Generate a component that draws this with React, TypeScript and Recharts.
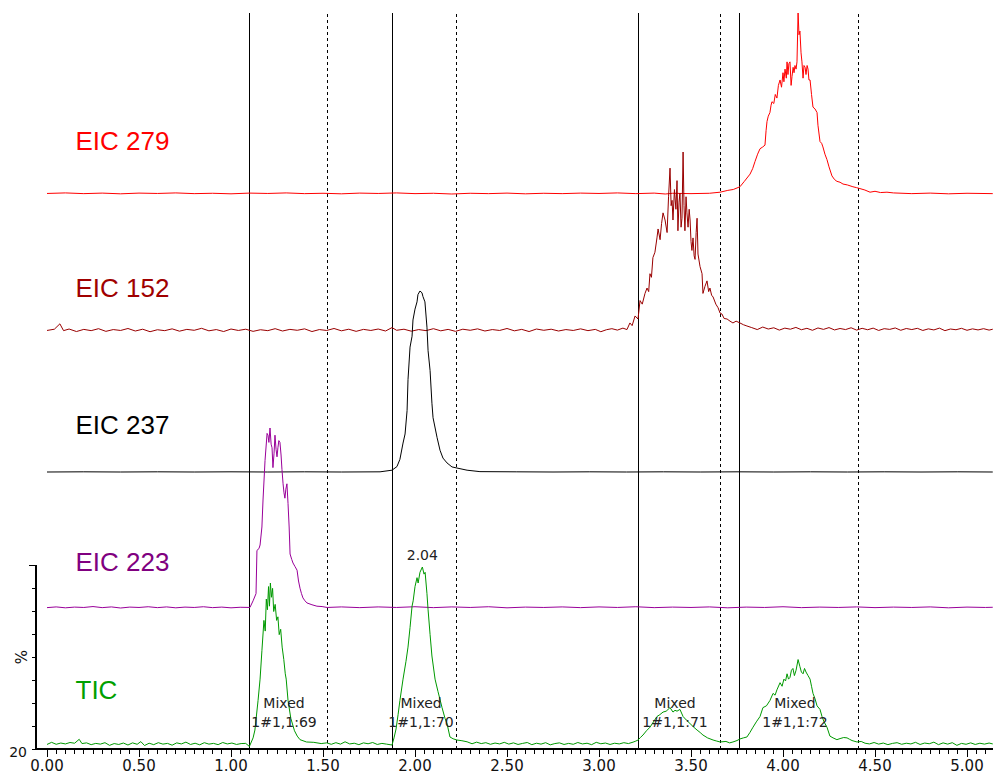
import React from 'react';
import { ComposedChart, Line, XAxis, YAxis, ReferenceLine, ReferenceDot } from 'recharts';

type Pt = [number, number];

// [retention time (min), relative intensity (%)]
const tic: Pt[] = [
  [0.0, 0.3], [0.025, 1.5], [0.05, 0.4], [0.075, 1.1], [0.1, 0.6], [0.125, 1.4], [0.15, 1.0], [0.175, 3.2],
  [0.19, 0.8], [0.215, 1.2], [0.24, 0.2], [0.265, 0.9], [0.29, 0.5], [0.315, 1.3], [0.34, -0.2], [0.365, 0.8],
  [0.39, 0.3], [0.415, 1.1], [0.44, 0.0], [0.465, 1.2], [0.49, 0.4], [0.51, 1.9], [0.53, -0.3], [0.555, 1.0],
  [0.58, 0.2], [0.605, 1.3], [0.63, 0.5], [0.655, 0.9], [0.68, -0.1], [0.705, 1.2], [0.73, 0.6], [0.755, 1.6],
  [0.78, 0.3], [0.805, 1.0], [0.83, 0.1], [0.855, 1.3], [0.88, 0.5], [0.905, 0.9], [0.93, 0.2], [0.955, 1.4],
  [0.98, 0.6], [1.005, 1.1], [1.03, 0.3], [1.055, 0.8], [1.08, 0.9], [1.1, -0.8],
  [1.12, 4], [1.13, 8.4], [1.147, 25], [1.158, 37], [1.168, 53], [1.179, 70], [1.186, 64], [1.192, 82],
  [1.198, 76], [1.204, 89], [1.209, 78], [1.214, 91], [1.22, 83], [1.226, 88], [1.232, 75], [1.24, 79],
  [1.248, 70], [1.255, 72], [1.262, 62], [1.27, 65], [1.278, 55], [1.287, 48], [1.295, 40], [1.3, 37],
  [1.31, 25], [1.325, 15], [1.345, 8], [1.36, 5], [1.375, 3], [1.41, 1.7], [1.45, 1.5], [1.49, 0.8], [1.52, 1.2],
  [1.545, 0.4], [1.57, 1.3], [1.595, 0.5], [1.62, 1.8], [1.645, 0.6], [1.67, 1.0], [1.695, 0.2], [1.72, 1.2],
  [1.745, 0.7], [1.77, 1.4], [1.795, 0.3], [1.82, 0.9], [1.845, 0.5], [1.875, 0],
  [1.886, 4], [1.897, 9], [1.908, 17], [1.918, 25], [1.935, 37], [1.951, 47], [1.962, 55], [1.973, 66],
  [1.984, 78], [1.99, 81], [2.0, 89], [2.011, 94], [2.017, 91], [2.027, 97], [2.04, 100], [2.049, 96],
  [2.055, 97], [2.065, 85], [2.071, 76], [2.082, 62], [2.092, 50], [2.109, 37], [2.125, 30], [2.147, 21],
  [2.163, 15], [2.174, 12], [2.19, 4.5], [2.207, 3.5], [2.228, 2.8], [2.255, 2.4], [2.283, 1.8],
  [2.31, 0.7], [2.335, 1.6], [2.36, 0.8], [2.385, 1.3], [2.41, 0.4], [2.435, 1.1], [2.46, 0.6], [2.485, 1.5],
  [2.51, 0.5], [2.535, 1.2], [2.56, 0.3], [2.585, 0.9], [2.61, 1.4], [2.635, 0.2], [2.66, 1.0], [2.685, 0.5],
  [2.71, 1.3], [2.735, 0.1], [2.76, 0.8], [2.785, 1.2], [2.81, 0.3], [2.835, 0.9], [2.86, 0.4], [2.885, 1.4],
  [2.91, 0.6], [2.935, 1.0], [2.96, 0.2], [2.985, 1.5], [3.01, 0.7], [3.035, 1.1], [3.06, 0.3], [3.085, 1.0],
  [3.11, 0.6], [3.135, 1.3], [3.16, 0.8], [3.185, 1.6], [3.2, 2.2],
  [3.212, 2.8], [3.225, 4.2], [3.239, 5.6], [3.258, 8], [3.277, 10], [3.296, 13], [3.315, 16], [3.33, 17],
  [3.348, 18.5], [3.365, 19], [3.386, 21], [3.402, 18.5], [3.413, 19.5], [3.424, 19], [3.44, 20], [3.457, 16],
  [3.475, 14], [3.495, 12], [3.515, 10], [3.533, 8.4], [3.55, 7], [3.565, 5.6], [3.59, 4], [3.62, 2.8],
  [3.64, 2.2], [3.658, 1.7], [3.69, 2.0], [3.71, 1.2], [3.728, 1.7], [3.75, 2.5], [3.766, 3.4],
  [3.785, 4.0], [3.804, 4.5], [3.82, 7], [3.837, 10], [3.855, 13], [3.875, 16], [3.891, 21], [3.91, 22],
  [3.929, 25], [3.946, 29], [3.957, 28], [3.967, 31], [3.984, 35], [3.995, 33], [4.005, 37], [4.014, 36],
  [4.022, 40], [4.03, 37], [4.038, 38], [4.046, 42], [4.054, 43], [4.062, 39], [4.071, 42], [4.082, 48],
  [4.092, 44], [4.1, 41], [4.109, 40], [4.117, 43], [4.125, 41], [4.136, 39], [4.147, 37], [4.155, 33],
  [4.163, 29], [4.174, 26], [4.185, 22], [4.201, 20], [4.212, 16], [4.223, 13], [4.239, 10], [4.255, 5],
  [4.272, 4], [4.293, 3], [4.31, 3.6], [4.33, 4.2], [4.348, 4], [4.362, 3.2], [4.375, 2.5], [4.402, 1.7],
  [4.425, 2.0], [4.446, 1.0],
  [4.47, 0.6], [4.495, 1.4], [4.52, 0.5], [4.545, 1.1], [4.57, 0.2], [4.595, 0.9], [4.62, 1.3], [4.645, 0.4],
  [4.67, 1.0], [4.695, 0.6], [4.72, 1.5], [4.745, 0.3], [4.77, 1.1], [4.795, 0.7], [4.82, 1.6], [4.845, 0.2],
  [4.87, 1.2], [4.895, 0.5], [4.92, 1.3], [4.945, -0.2], [4.97, 0.9], [4.995, 0.4], [5.02, 1.2], [5.045, 0.3],
  [5.07, 1.0], [5.095, 0.5], [5.12, 1.1], [5.14, 0.6],
];

const eic223: Pt[] = [
  [0.0, 0.2], [0.05, 0.6], [0.1, 0.1], [0.15, 0.5], [0.2, 0.3], [0.25, 0.8], [0.3, 0.2], [0.35, 0.6],
  [0.4, 0.0], [0.45, 0.5], [0.5, 0.3], [0.55, 0.7], [0.6, 0.2], [0.65, 0.6], [0.7, 0.1], [0.75, 0.5],
  [0.8, 0.3], [0.85, 0.7], [0.9, 0.2], [0.95, 0.5], [1.0, 0.1], [1.05, 0.4], [1.103, 0.3],
  [1.12, 4], [1.136, 8], [1.141, 32], [1.152, 33], [1.158, 35], [1.168, 45], [1.174, 60], [1.185, 82],
  [1.196, 97], [1.201, 96], [1.206, 92], [1.212, 100], [1.218, 91], [1.223, 89], [1.228, 78], [1.234, 86],
  [1.239, 96], [1.245, 88], [1.25, 84], [1.255, 89], [1.26, 93], [1.266, 92], [1.272, 85], [1.277, 77],
  [1.283, 69], [1.288, 64], [1.293, 61], [1.298, 66], [1.304, 69], [1.31, 58], [1.316, 45], [1.321, 30],
  [1.33, 27], [1.337, 25], [1.348, 23], [1.359, 21], [1.367, 15], [1.375, 11], [1.383, 8], [1.391, 5.6],
  [1.402, 4], [1.413, 2.8], [1.44, 1.8], [1.467, 1], [1.495, 0.8], [1.522, 0.3],
  [1.6, 0.6], [1.7, 0.2], [1.8, 0.6], [1.9, 0.3], [2.0, 0.7], [2.1, 0.2], [2.2, 0.6], [2.3, 0.3],
  [2.4, 0.7], [2.5, 0.1], [2.6, 0.5], [2.7, 0.3], [2.8, 0.6], [2.9, 0.2], [3.0, 0.6], [3.1, 0.3],
  [3.2, 0.7], [3.3, 0.2], [3.4, 0.5], [3.5, 0.3], [3.6, 0.6], [3.7, 0.1], [3.8, 0.5], [3.9, 0.3],
  [4.0, 0.7], [4.1, 0.2], [4.2, 0.5], [4.3, 0.3], [4.4, 0.6], [4.5, 0.2], [4.6, 0.5], [4.7, 0.3],
  [4.8, 0.6], [4.9, 0.1], [5.0, 0.5], [5.1, 0.3], [5.14, 0.4],
];

const eic237: Pt[] = [
  [0.0, 0.0], [0.2, 0.1], [0.4, 0.0], [0.6, 0.1], [0.8, 0.0], [1.0, 0.1], [1.2, 0.0], [1.4, 0.1],
  [1.6, 0.0], [1.81, 0.1],
  [1.875, 1], [1.902, 3], [1.918, 7], [1.935, 16], [1.946, 21], [1.957, 34], [1.962, 51], [1.973, 69],
  [1.984, 75], [1.989, 84], [2.0, 90], [2.011, 94], [2.016, 98], [2.027, 100], [2.038, 99], [2.043, 97],
  [2.054, 94], [2.065, 80], [2.071, 67], [2.082, 56], [2.092, 38], [2.098, 30], [2.12, 19], [2.136, 12],
  [2.152, 7.7], [2.174, 5], [2.201, 2.8], [2.228, 2.2], [2.283, 1], [2.353, 0.2],
  [2.55, 0.1], [2.75, 0.0], [2.95, 0.1], [3.15, 0.0], [3.35, 0.1], [3.55, 0.0], [3.75, 0.1], [3.95, 0.0],
  [4.15, 0.1], [4.35, 0.0], [4.55, 0.1], [4.75, 0.0], [4.95, 0.1], [5.14, 0.0],
];

const eic152: Pt[] = [
  [0.0, 0.3], [0.04, 1.0], [0.07, 4.0], [0.09, 0.2], [0.12, 1.1], [0.16, -0.3], [0.2, 0.9], [0.24, 0.2],
  [0.28, 1.3], [0.32, -0.2], [0.36, 0.8], [0.4, 0.3], [0.44, 1.4], [0.48, 0.0], [0.52, 1.0], [0.56, -0.4],
  [0.6, 0.7], [0.64, 0.2], [0.68, 1.2], [0.72, -0.1], [0.76, 0.9], [0.8, 0.4], [0.84, 1.5], [0.88, 0.1],
  [0.92, 0.8], [0.96, -0.3], [1.0, 1.1], [1.04, 0.3], [1.08, 1.0], [1.12, -0.2], [1.16, 0.7], [1.2, 0.2],
  [1.24, 1.3], [1.28, 0.0], [1.32, 0.9], [1.36, 0.4], [1.4, 1.2], [1.44, -0.3], [1.48, 0.8], [1.52, 0.3],
  [1.56, 1.4], [1.6, 0.1], [1.64, 1.0], [1.68, -0.2], [1.72, 0.9], [1.76, 0.3], [1.8, 1.1], [1.84, 0.0],
  [1.875, 1.9], [1.9, 0.4], [1.94, 1.0], [1.98, -0.1], [2.02, 0.8], [2.06, 0.2], [2.1, 1.3], [2.14, 0.1],
  [2.18, 0.9], [2.22, -0.2], [2.26, 1.0], [2.3, 0.4], [2.34, 1.2], [2.38, 0.0], [2.42, 0.8], [2.46, 0.3],
  [2.5, 1.4], [2.54, 0.1], [2.58, 0.9], [2.62, -0.3], [2.66, 1.1], [2.7, 0.4], [2.74, 1.0], [2.78, 0.0],
  [2.82, 0.8], [2.86, 0.3], [2.9, 1.2], [2.94, 0.2], [2.98, 0.9], [3.01, -0.4], [3.04, 0.7], [3.07, 1.3],
  [3.1, 0.5], [3.13, 1.6], [3.152, 0.8],
  [3.168, 4.5], [3.18, 3], [3.196, 8.4], [3.212, 6.7], [3.223, 17], [3.235, 15], [3.25, 21], [3.261, 24],
  [3.27, 22], [3.277, 32], [3.285, 30], [3.293, 41], [3.304, 44], [3.315, 52], [3.321, 57], [3.332, 51],
  [3.34, 60], [3.348, 66], [3.359, 62], [3.37, 55], [3.378, 75], [3.386, 91], [3.392, 70], [3.397, 73],
  [3.402, 62], [3.41, 79], [3.418, 68], [3.424, 84], [3.429, 56], [3.435, 72], [3.44, 77], [3.446, 58],
  [3.451, 63], [3.457, 100], [3.462, 70], [3.467, 56], [3.473, 75], [3.478, 66], [3.484, 58], [3.49, 68],
  [3.495, 62], [3.5, 50], [3.505, 45], [3.511, 52], [3.517, 42], [3.522, 40], [3.528, 55], [3.533, 63],
  [3.538, 43], [3.549, 36], [3.56, 32], [3.565, 21], [3.576, 25], [3.587, 28], [3.596, 22], [3.603, 24],
  [3.612, 20], [3.62, 19], [3.635, 15], [3.647, 13], [3.658, 10], [3.668, 9.5], [3.68, 7], [3.696, 6.7],
  [3.712, 5.5], [3.728, 4.5], [3.745, 5.5], [3.766, 4.5], [3.785, 3.5], [3.804, 2.8],
  [3.83, 1.9], [3.86, 0.8], [3.89, 2.2], [3.92, 1.1], [3.95, 1.8], [3.98, 0.5], [4.01, 1.6], [4.04, 1.0],
  [4.07, 2.0], [4.1, 0.7], [4.13, 1.5], [4.16, 0.4], [4.19, 1.7], [4.22, 0.9], [4.25, 1.9], [4.28, 0.6],
  [4.31, 1.4], [4.34, 0.8], [4.37, 1.8], [4.4, 0.5], [4.43, 1.5], [4.46, 0.7], [4.49, 1.6], [4.52, 0.3],
  [4.55, 1.3], [4.58, 0.9], [4.61, 1.7], [4.64, 0.4], [4.67, 1.4], [4.7, 0.8], [4.73, 1.5], [4.76, 0.3],
  [4.79, 1.2], [4.82, 0.6], [4.85, 1.6], [4.88, 0.2], [4.91, 1.1], [4.94, 0.7], [4.97, 1.5], [5.0, 0.4],
  [5.03, 1.2], [5.06, 0.6], [5.09, 1.3], [5.12, 0.5], [5.14, 1.0],
];

const eic279: Pt[] = [
  [0.0, 0.3], [0.1, 0.6], [0.2, 0.2], [0.3, 0.5], [0.4, 0.1], [0.5, 0.5], [0.6, 0.3], [0.7, 0.6],
  [0.8, 0.2], [0.9, 0.4], [1.0, 0.1], [1.1, 0.5], [1.2, 0.3], [1.3, 0.6], [1.4, 0.2], [1.5, 0.4],
  [1.6, 0.1], [1.7, 0.5], [1.8, 0.3], [1.9, 0.6], [2.0, 0.2], [2.1, 0.4], [2.2, 0.0], [2.3, 0.4],
  [2.4, 0.2], [2.5, 0.5], [2.6, 0.1], [2.7, 0.4], [2.8, 0.2], [2.9, 0.5], [3.0, 0.3], [3.1, 0.6],
  [3.2, 0.2], [3.3, 0.5], [3.36, 0.0], [3.4, 0.4], [3.5, 0.2], [3.6, 0.4], [3.658, 1.0],
  [3.7, 2.0], [3.73, 2.5], [3.766, 4], [3.79, 7], [3.821, 11], [3.835, 14], [3.848, 18], [3.862, 22],
  [3.875, 25], [3.89, 26], [3.902, 27], [3.908, 35], [3.913, 40], [3.92, 43], [3.929, 45], [3.935, 49],
  [3.94, 51], [3.95, 50], [3.958, 55], [3.967, 53], [3.975, 60], [3.984, 63], [3.992, 59], [4.0, 67],
  [4.005, 62], [4.011, 69], [4.018, 64], [4.022, 73], [4.027, 66], [4.032, 72], [4.038, 73], [4.044, 60],
  [4.049, 65], [4.055, 70], [4.06, 67], [4.065, 71], [4.071, 69], [4.076, 73], [4.082, 100], [4.087, 88],
  [4.092, 90], [4.098, 78], [4.103, 73], [4.109, 64], [4.114, 71], [4.12, 70], [4.125, 66], [4.131, 71],
  [4.136, 69], [4.141, 63], [4.147, 63], [4.155, 55], [4.163, 48], [4.174, 47], [4.185, 45], [4.19, 38],
  [4.201, 29], [4.21, 28], [4.217, 26], [4.228, 22], [4.239, 19], [4.25, 15], [4.266, 10], [4.28, 8],
  [4.293, 7], [4.31, 6.5], [4.326, 5.5], [4.35, 5], [4.38, 4], [4.4, 3.5], [4.418, 3], [4.445, 2.2],
  [4.473, 1], [4.5, 1.5], [4.53, 0.8], [4.565, 1], [4.6, 0.6],
  [4.7, 0.2], [4.8, 0.5], [4.9, 0.1], [5.0, 0.4], [5.14, 0.2],
];

// integration window markers (start solid, end dashed)
const windowStarts = [1.103, 1.875, 3.212, 3.766];
const windowEnds = [1.522, 2.228, 3.658, 4.413];

// peak annotations on the TIC
const peakTimes = [1.288, 2.033, 3.413, 4.065];
const peakSamples = ['1#1,1:69', '1#1,1:70', '1#1,1:71', '1#1,1:72'];

const majorTicks = [0, 0.5, 1, 1.5, 2, 2.5, 3, 3.5, 4, 4.5, 5];
const minorTicks = Array.from({ length: 103 }, (_, i) => +(i * 0.05).toFixed(2));
const pctTicks = [0, 12.5, 25, 37.5, 50, 62.5, 75, 87.5, 100];

// layout
const PLOT_TOP = 13;
const PLOT_BOTTOM = 749;
const Y_AXIS_W = 36;
const X_MIN = -11 / 184;
const X_MAX = 5.1413;
const NAME_X = 0.155;
const SANS = '"Liberation Sans", Arial, sans-serif';
const DEJAVU = '"DejaVu Sans", sans-serif';

// each trace sits on its own hidden axis: base = pixel row of 0 %, top = pixel row of 100 %
const traces = [
  { id: 'e279', name: 'EIC 279', data: eic279, color: '#ff0000', label: '#ff0000', base: 194, top: 13, nameY: 141 },
  { id: 'e152', name: 'EIC 152', data: eic152, color: '#990000', label: '#a00000', base: 331, top: 152, nameY: 288 },
  { id: 'e237', name: 'EIC 237', data: eic237, color: '#000000', label: '#000000', base: 472, top: 291, nameY: 425 },
  { id: 'e223', name: 'EIC 223', data: eic223, color: '#990099', label: '#800080', base: 608, top: 428, nameY: 562 },
  { id: 'tic', name: 'TIC', data: tic, color: '#009900', label: '#00a000', base: 745, top: 567, nameY: 690 },
];

const domainFor = (base: number, top: number): [number, number] => {
  const k = 100 / (base - top);
  return [-(PLOT_BOTTOM - base) * k, (base - PLOT_TOP) * k];
};

const rows = (pts: Pt[]) => pts.map(([t, v]) => ({ t, v }));

const ticApex = tic.reduce((a, b) => (b[1] > a[1] ? b : a));
const ticTrace = traces[4];
const mixedLevel = ((ticTrace.base - 712.5) / (ticTrace.base - ticTrace.top)) * 100;

const centre = (vb: any) => ({ cx: vb.x + vb.width / 2, cy: vb.y + vb.height / 2 });

const XTick = (props: any) => {
  const { x, y, payload } = props;
  const major = majorTicks.includes(payload.value);
  return (
    <g>
      <line x1={x} x2={x} y1={y} y2={y + (major ? 8 : 5)} stroke="#000" shapeRendering="crispEdges" />
      {major && (
        <text x={x} y={y + 22} textAnchor="middle" fontSize={15} fontFamily={DEJAVU} fill="#111">
          {payload.value.toFixed(2)}
        </text>
      )}
    </g>
  );
};

// the short intensity scale hangs off the left edge of the plot
const YTick = (props: any) => {
  const { y, payload } = props;
  const x = Y_AXIS_W;
  const len = payload.value === 100 ? 7 : 4;
  return (
    <g>
      <line x1={x - len} x2={x} y1={y} y2={y} stroke="#000" shapeRendering="crispEdges" />
      {payload.value === 0 && (
        <text x={x - 9} y={y + 8} textAnchor="end" fontSize={14} fontFamily={DEJAVU} fill="#111">
          20
        </text>
      )}
    </g>
  );
};

export default function App() {
  return (
    <div style={{ width: 994, height: 775, background: '#fff' }}>
      <style>{'body{margin:0}'}</style>
      <ComposedChart width={994} height={775} margin={{ top: PLOT_TOP, right: 1, bottom: 0, left: 0 }}>
        <XAxis
          type="number"
          dataKey="t"
          domain={[X_MIN, X_MAX]}
          allowDataOverflow
          ticks={minorTicks}
          interval={0}
          height={775 - PLOT_BOTTOM}
          axisLine={{ stroke: '#000', strokeWidth: 2 }}
          tickLine={false}
          tickSize={0}
          tickMargin={0}
          tick={XTick}
        />
        <YAxis
          yAxisId="pct"
          orientation="left"
          type="number"
          domain={[0, 400]}
          allowDataOverflow
          ticks={pctTicks}
          width={Y_AXIS_W}
          axisLine={false}
          tickLine={false}
          tickSize={0}
          tickMargin={0}
          tick={<YTick />}
        />
        {traces.map((tr) => (
          <YAxis key={tr.id} yAxisId={tr.id} type="number" hide domain={domainFor(tr.base, tr.top)} allowDataOverflow />
        ))}

        <ReferenceLine
          yAxisId="pct"
          segment={[{ x: X_MIN, y: 0 }, { x: X_MIN, y: 100 }]}
          stroke="#000"
          strokeWidth={2}
          ifOverflow="visible"
        />
        <ReferenceDot
          yAxisId="pct"
          x={X_MIN}
          y={50}
          r={1}
          fill="none"
          stroke="none"
          ifOverflow="visible"
          label={(p: any) => {
            const { cx, cy } = centre(p.viewBox);
            return (
              <text
                x={cx - 14}
                y={cy}
                transform={`rotate(-90 ${cx - 14} ${cy})`}
                textAnchor="middle"
                dominantBaseline="central"
                fontSize={15}
                fontFamily={DEJAVU}
                fill="#111"
              >
                %
              </text>
            );
          }}
        />

        {windowStarts.map((t) => (
          <ReferenceLine key={`s${t}`} yAxisId="pct" x={t} stroke="#000" strokeWidth={1} shapeRendering="crispEdges" />
        ))}
        {windowEnds.map((t) => (
          <ReferenceLine
            key={`e${t}`}
            yAxisId="pct"
            x={t}
            stroke="#000"
            strokeWidth={1}
            strokeDasharray="3 3"
            shapeRendering="crispEdges"
          />
        ))}

        {traces.map((tr) => (
          <Line
            key={tr.id}
            yAxisId={tr.id}
            data={rows(tr.data)}
            dataKey="v"
            type="linear"
            stroke={tr.color}
            strokeWidth={1}
            dot={false}
            activeDot={false}
            isAnimationActive={false}
          />
        ))}

        {traces.map((tr) => (
          <ReferenceDot
            key={`n${tr.id}`}
            yAxisId={tr.id}
            x={NAME_X}
            y={((tr.base - tr.nameY) / (tr.base - tr.top)) * 100}
            r={1}
            fill="none"
            stroke="none"
            label={(p: any) => {
              const { cx, cy } = centre(p.viewBox);
              return (
                <text x={cx} y={cy} dominantBaseline="central" fontSize={26} fontFamily={SANS} fill={tr.label}>
                  {tr.name}
                </text>
              );
            }}
          />
        ))}

        <ReferenceDot
          yAxisId="tic"
          x={ticApex[0]}
          y={ticApex[1]}
          r={1}
          fill="none"
          stroke="none"
          label={(p: any) => {
            const { cx, cy } = centre(p.viewBox);
            return (
              <text x={cx} y={cy - 7} textAnchor="middle" fontSize={14} fontFamily={DEJAVU} fill="#222">
                {ticApex[0].toFixed(2)}
              </text>
            );
          }}
        />

        {peakTimes.map((t, i) => (
          <ReferenceDot
            key={`m${t}`}
            yAxisId="tic"
            x={t}
            y={mixedLevel}
            r={1}
            fill="none"
            stroke="none"
            label={(p: any) => {
              const { cx, cy } = centre(p.viewBox);
              return (
                <g fontSize={14} fontFamily={DEJAVU} fill="#222" textAnchor="middle">
                  <text x={cx} y={cy - 9.5} dominantBaseline="central">Mixed</text>
                  <text x={cx} y={cy + 9.5} dominantBaseline="central">{peakSamples[i]}</text>
                </g>
              );
            }}
          />
        ))}
      </ComposedChart>
    </div>
  );
}
